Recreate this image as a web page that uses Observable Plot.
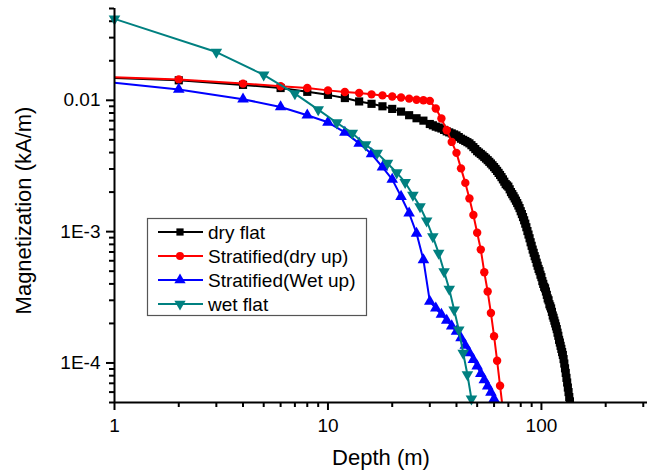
<!DOCTYPE html>
<html><head><meta charset="utf-8">
<script src="https://cdn.jsdelivr.net/npm/d3@7"></script>
<script src="https://cdn.jsdelivr.net/npm/@observablehq/plot@0.6"></script>
<style>
body{margin:0;background:#fff;}
#wrap{position:relative;width:647px;height:473px;overflow:hidden;}
#legend{position:absolute;left:0;top:0;}
</style></head><body><div id="wrap"></div>
<script>
// ---- data ----
const seriesNames = ["dry flat", "Stratified(dry up)", "Stratified(Wet up)", "wet flat"];
const seriesColors = ["#000000", "#ff0000", "#0000ff", "#008080"];

const depthDryFlat = [1,2,4,6,8,10,12,14,16,18,20,22,24,26,28,30,
  31,32,33,34,35,36,37,38,39,40,41,42,43,44,45,46,47,48,49,50,51,52,53,54,55,56,57,58,59,60,
  61,62,63,64,65,66,67,68,69,70,71,72,73,74,75,76,77,78,79,80,81,82,83,84,85,86,87,88,89,90,91,92,93,94,95,96,97,98,99,100,
  101,102,103,104,105,106,107,108,109,110,111,112,113,114,115,116,117,118,119,120,121,122,123,124,125,126,127,128,129,130,131,132,133,134,135,136,137,138];
const magDryFlat = [0.0148,0.0142,0.0131,0.0124,0.0116,0.0110,0.0104,0.0098,0.0094,0.0090,0.0086,0.0082,0.0077,0.0073,0.0070,0.0066,
  0.00645,0.0063,0.0062,0.0061,0.00595,0.0058,0.0057,0.0056,0.0055,0.0054,0.00525,0.0051,0.0050,0.0049,0.0048,0.0047,0.00455,0.0044,0.00425,0.0041,0.0040,0.0039,0.0038,0.0037,0.0036,0.0035,0.0034,0.0033,0.0032,0.0031,
  0.0030,0.0029,0.0028,0.0027,0.0026,0.0025,0.0024,0.0023,0.00225,0.0022,0.0021,0.0020,0.00193,0.00186,0.00179,0.00172,0.00165,0.00158,0.00151,0.00143,0.00136,0.00129,0.00122,0.00115,0.00108,0.00101,0.00095,0.00089,0.00083,0.00078,0.00073,0.00069,0.00065,0.00062,0.00058,0.00055,0.00052,0.00050,0.00047,0.00045,
  0.00042,0.00040,0.00038,0.00037,0.00035,0.00033,0.00031,0.00030,0.00028,0.00027,0.00026,0.000245,0.00023,0.000221,0.00021,0.000200,0.00019,0.000181,0.00017,0.000161,0.00015,0.000143,0.000135,0.000128,0.000121,0.000115,0.000107,0.000099,0.000091,0.000084,0.000077,0.000071,0.000065,0.000060,0.000055,0.000051,0.000047,0.000044];

const depthStratDry = [1,2,4,6,8,10,12,14,16,18,20,22,24,26,28,30,32,34,36,38,40,42,44,46,48,50,52,54,56,58,60,62,64,66];
const magStratDry = [0.0150,0.01443,0.0134,0.0128,0.0124,0.0119,0.01156,0.01136,0.0111,0.0109,0.0107,0.0105,0.0103,0.0101,0.0100,0.0099,0.00865,0.00726,0.00592,0.00482,0.00398,0.00303,0.00235,0.00179,0.00134,0.00098,0.00073,0.00049,0.00035,0.00024,0.00016,0.000104,0.000067,0.000044];

const depthStratWet = [1,2,4,6,8,10,12,14,16,18,20,22,24,26,28,30,32,34,36,38,40,42,44,46,48,50,52,54,56,58,60];
const magStratWet = [0.0136,0.0121,0.0102,0.0089,0.0077,0.0068,0.0057,0.0047,0.0039,0.0031,0.0025,0.00185,0.00138,0.00097,0.00061,0.000294,0.000261,0.000234,0.000211,0.000191,0.000174,0.000155,0.000136,0.0001195,0.0001061,0.0000944,0.0000829,0.0000742,0.0000665,0.0000598,0.0000532];

const depthWetFlat = [1,3,5,7,9,11,13,15,17,19,21,23,25,27,29,31,33,35,37,39,41,43,45,47];
const magWetFlat = [0.0417,0.0233,0.0156,0.01124,0.0085,0.00675,0.00562,0.00459,0.00396,0.00332,0.00281,0.00237,0.0019,0.00155,0.00121,0.000916,0.000686,0.000497,0.000365,0.000254,0.000179,0.000119,0.0000817,0.0000533];

const xMajorTicks = [1, 10, 100];
const xMajorLabels = ["1", "10", "100"];
const xMinorTicks = [2,3,4,5,6,7,8,9,20,30,40,50,60,70,80,90,200,300];
const yMajorTicks = [1e-4, 1e-3, 1e-2];
const yMajorLabels = ["1E-4", "1E-3", "0.01"];
const yMinorTicks = [5e-5,6e-5,7e-5,8e-5,9e-5,2e-4,3e-4,4e-4,5e-4,6e-4,7e-4,8e-4,9e-4,2e-3,3e-3,4e-3,5e-3,6e-3,7e-3,8e-3,9e-3,2e-2,3e-2,4e-2,5e-2];

// ---- build ----
const toRows = (xs, ys) => xs.map((x, i) => ({x, y: ys[i]}));
const dry = toRows(depthDryFlat, magDryFlat);
const sdry = toRows(depthStratDry, magStratDry);
const swet = toRows(depthStratWet, magStratWet);
const wet = toRows(depthWetFlat, magWetFlat);
const withMarker = d => d.x >= 2;

const FONT = "'Liberation Sans', Arial, Helvetica, sans-serif";

const chart = Plot.plot({
  width: 647, height: 473,
  marginLeft: 114, marginRight: 0, marginTop: 8, marginBottom: 71,
  style: {fontFamily: FONT, background: "#fff", color: "#000", overflow: "visible"},
  x: {type: "log", domain: [1, 314]},
  y: {type: "log", domain: [5e-5, 0.05]},
  marks: [
    Plot.axisX({ticks: xMinorTicks, tickSize: 5, tickFormat: () => "", strokeWidth: 2, label: null}),
    Plot.axisX({ticks: xMajorTicks, tickSize: 8, tickPadding: 8, tickFormat: d => xMajorLabels[xMajorTicks.indexOf(d)], fontSize: 19, strokeWidth: 2, label: null}),
    Plot.axisY({ticks: yMinorTicks, tickSize: 5, tickFormat: () => "", strokeWidth: 2, label: null}),
    Plot.axisY({ticks: yMajorTicks, tickSize: 8, tickPadding: 6, tickFormat: d => yMajorLabels[yMajorTicks.findIndex(t => Math.abs(t - d) / t < 1e-6)], fontSize: 19, strokeWidth: 2, label: null}),
    Plot.line(dry, {x: "x", y: "y", stroke: seriesColors[0], strokeWidth: 2, clip: true}),
    Plot.dot(dry.filter(withMarker), {x: "x", y: "y", symbol: "square", r: 4.6, fill: seriesColors[0], clip: true}),
    Plot.line(sdry, {x: "x", y: "y", stroke: seriesColors[1], strokeWidth: 2, clip: true}),
    Plot.dot(sdry.filter(withMarker), {x: "x", y: "y", symbol: "circle", r: 4.2, fill: seriesColors[1], clip: true}),
    Plot.line(swet, {x: "x", y: "y", stroke: seriesColors[2], strokeWidth: 2, clip: true}),
    Plot.dot(swet.filter(withMarker), {x: "x", y: "y", symbol: "triangle", r: 4.3, fill: seriesColors[2], clip: true}),
    Plot.line(wet, {x: "x", y: "y", stroke: seriesColors[3], strokeWidth: 2, clip: true}),
    Plot.dot(wet, {x: "x", y: "y", symbol: "triangle", rotate: 180, r: 4.3, fill: seriesColors[3]}),
    Plot.ruleX([1], {strokeWidth: 2}),
    Plot.ruleY([5e-5], {strokeWidth: 2}),
    Plot.text(["Depth (m)"], {text: d => d, frameAnchor: "bottom", dy: 62, fontSize: 22}),
    Plot.text(["Magnetization (kA/m)"], {text: d => d, frameAnchor: "left", textAnchor: "middle", dx: -91, dy: 5, rotate: -90, fontSize: 22})
  ]
});
const wrap = document.getElementById("wrap");
wrap.appendChild(chart);

// ---- legend overlay ----
const lg = d3.select(wrap).append("svg").attr("id", "legend")
  .attr("width", 647).attr("height", 473)
  .style("position", "absolute").style("left", "0px").style("top", "0px")
  .attr("font-family", FONT);
lg.append("rect").attr("x", 147.5).attr("y", 218.5).attr("width", 219).attr("height", 97)
  .attr("fill", "#fff").attr("stroke", "#555").attr("stroke-width", 1.2);
const symTypes = [d3.symbolSquare, d3.symbolCircle, d3.symbolTriangle, d3.symbolTriangle];
const symSizes = [52, 50, 55, 55];
seriesNames.forEach((name, i) => {
  const cy = 232 + i * 24;
  lg.append("line").attr("x1", 158).attr("x2", 203).attr("y1", cy).attr("y2", cy)
    .attr("stroke", seriesColors[i]).attr("stroke-width", 2);
  lg.append("path").attr("d", d3.symbol(symTypes[i], symSizes[i])())
    .attr("transform", `translate(180,${cy})` + (i === 3 ? " rotate(180)" : ""))
    .attr("fill", seriesColors[i]);
  lg.append("text").attr("x", 208).attr("y", cy + 7).attr("font-size", 19).attr("fill", "#000").text(name);
});
</script>
</body></html>
